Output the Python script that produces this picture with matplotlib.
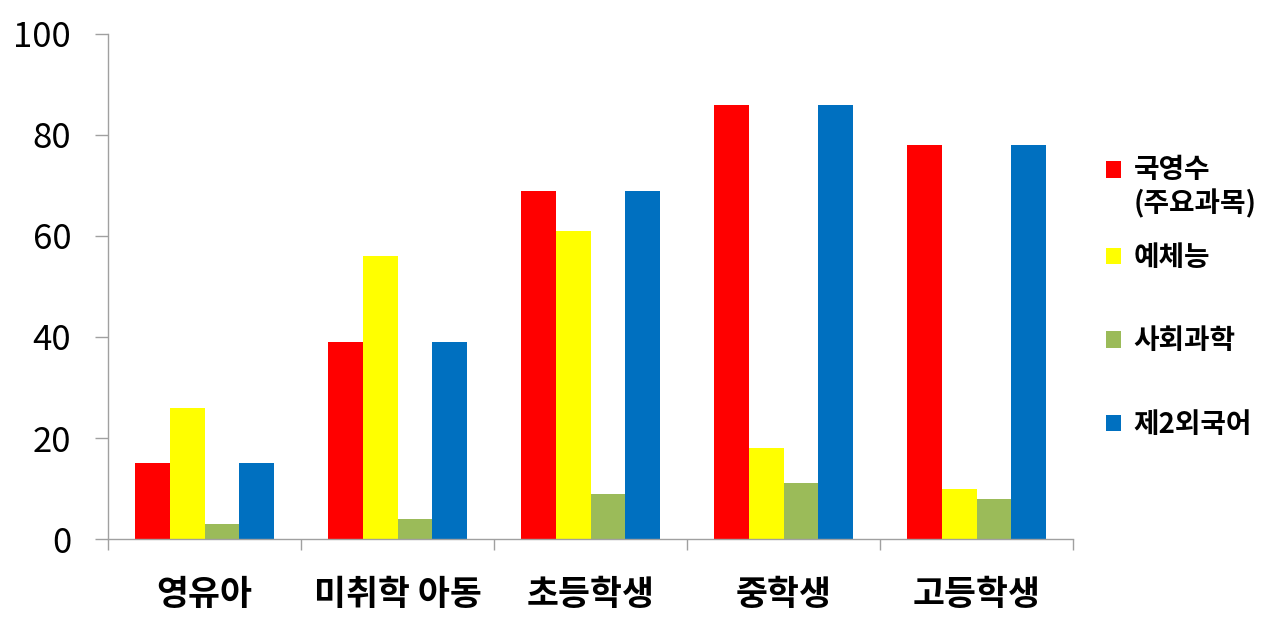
import numpy as np
import matplotlib
matplotlib.use("Agg")
import matplotlib.pyplot as plt
from matplotlib.patches import Rectangle
from matplotlib.legend_handler import HandlerPatch

plt.rcParams['font.family'] = ['Noto Sans CJK KR', 'DejaVu Sans']

categories = ["영유아", "미취학 아동", "초등학생", "중학생", "고등학생"]
series_names = ["국영수\n(주요과목)", "예체능", "사회과학", "제2외국어"]
korean_math_eng = [15, 39, 69, 86, 78]
arts_pe = [26, 56, 61, 18, 10]
social_science = [3, 4, 9, 11, 8]
second_language = [15, 39, 69, 86, 78]
colors = ["#FF0000", "#FFFF00", "#9BBB59", "#0070C0"]

values = [korean_math_eng, arts_pe, social_science, second_language]

fig = plt.figure(figsize=(12.8, 6.28), dpi=100)
ax = fig.add_axes([0.0844, 0.1417, 0.7539, 0.8042])

x = np.arange(len(categories))
w = 0.181
bars = []
for i, (vals, name, c) in enumerate(zip(values, series_names, colors)):
    bars.append(ax.bar(x + (i - 1.5) * w, vals, width=w, color=c, label=name, linewidth=0))

ax.set_xlim(-0.5, 4.5)
ax.set_ylim(0, 100)
ax.set_yticks([0, 20, 40, 60, 80, 100])
ax.tick_params(axis="y", labelsize=25, length=9.5, width=1, color="#A0A0A0", pad=17)

ax.set_xticks(np.arange(-0.5, 5.0, 1.0))
ax.set_xticklabels([])
ax.set_xticks(x, minor=True)
ax.set_xticklabels(categories, minor=True, fontsize=25, fontweight="bold")
ax.tick_params(axis="x", which="major", length=8, width=1, color="#A0A0A0", direction="out")
ax.tick_params(axis="x", which="minor", length=0, pad=27)

for s in ["top", "right"]:
    ax.spines[s].set_visible(False)
for s in ["left", "bottom"]:
    ax.spines[s].set_color("#A0A0A0")
    ax.spines[s].set_linewidth(1)


# legend marker for the two-line entry sits next to the first line
def top_square(legend, orig_handle, xdescent, ydescent, width, height, fontsize):
    return Rectangle((-xdescent, -ydescent + 0.68 * fontsize), width, height)


handles = [b.patches[0] for b in bars]
leg_kw = dict(frameon=False, prop={"size": 20, "weight": "bold"}, handlelength=0.55,
              handleheight=0.55, handletextpad=0.45, loc="upper left")
leg1 = ax.legend(handles[:1], series_names[:1], bbox_to_anchor=(1.008, 0.808),
                 handler_map={handles[0]: HandlerPatch(patch_func=top_square)}, **leg_kw)
ax.add_artist(leg1)
ax.legend(handles[1:], series_names[1:], bbox_to_anchor=(1.008, 0.634),
          labelspacing=2.0, **leg_kw)

fig.savefig("out.png", dpi=100)
